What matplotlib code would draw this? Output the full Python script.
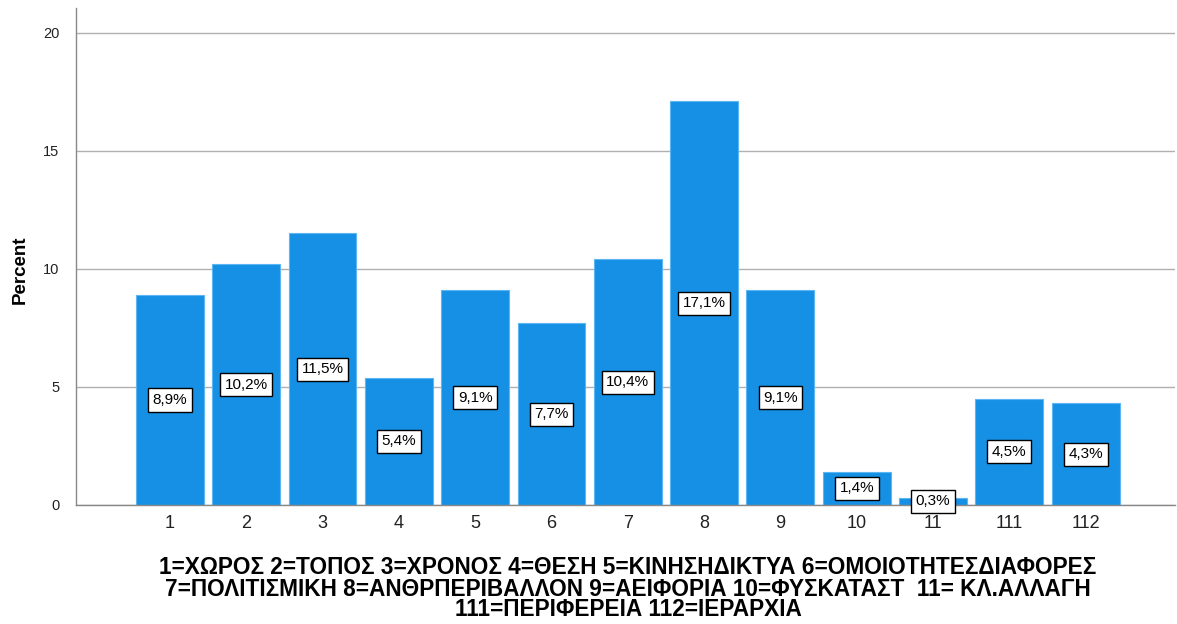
import matplotlib
matplotlib.use("Agg")
import matplotlib.pyplot as plt
import numpy as np

categories = ["1", "2", "3", "4", "5", "6", "7", "8", "9", "10", "11", "111", "112"]
percent = [8.9, 10.2, 11.5, 5.4, 9.1, 7.7, 10.4, 17.1, 9.1, 1.4, 0.3, 4.5, 4.3]
bar_labels = ["8,9%", "10,2%", "11,5%", "5,4%", "9,1%", "7,7%", "10,4%", "17,1%", "9,1%",
              "1,4%", "0,3%", "4,5%", "4,3%"]
yticks = [0, 5, 10, 15, 20]
xlabel_lines = [
    "1=ΧΩΡΟΣ 2=ΤΟΠΟΣ 3=ΧΡΟΝΟΣ 4=ΘΕΣΗ 5=ΚΙΝΗΣΗΔΙΚΤΥΑ 6=ΟΜΟΙΟΤΗΤΕΣΔΙΑΦΟΡΕΣ",
    "7=ΠΟΛΙΤΙΣΜΙΚΗ 8=ΑΝΘΡΠΕΡΙΒΑΛΛΟΝ 9=ΑΕΙΦΟΡΙΑ 10=ΦΥΣΚΑΤΑΣΤ  11= ΚΛ.ΑΛΛΑΓΗ",
    "111=ΠΕΡΙΦΕΡΕΙΑ 112=ΙΕΡΑΡΧΙΑ",
]

plt.rcParams['font.family'] = ['Liberation Sans', 'DejaVu Sans']

fig = plt.figure(figsize=(11.77, 6.24), dpi=100)
ax = fig.add_axes([76 / 1177, 1 - 505 / 624, (1175 - 76) / 1177, (505 - 8) / 624])

x = np.arange(len(categories))
ax.bar(x, percent, width=0.89, color='#1590e5', edgecolor='#5cb6f2', linewidth=0.8, zorder=2)

for xi, v, lab in zip(x, percent, bar_labels):
    ax.text(xi, v / 2, lab, ha='center', va='center', fontsize=11, zorder=4,
            bbox=dict(boxstyle='square,pad=0.3', facecolor='white', edgecolor='black', linewidth=1.0))

ax.set_xlim(-1.23, 13.17)
ax.set_ylim(0, 21.05)
ax.set_yticks(yticks)
ax.set_yticklabels([str(t) for t in yticks], fontsize=10.5)
ax.set_xticks(x)
ax.set_xticklabels(categories, fontsize=13)
ax.tick_params(axis='both', length=0, colors='#222222')
ax.tick_params(axis='y', pad=12)
ax.tick_params(axis='x', pad=7)
ax.grid(axis='y', color='#b0b0b0', linewidth=1.0, zorder=0)
ax.set_axisbelow(True)
for s in ['top', 'right']:
    ax.spines[s].set_visible(False)
for s in ['left', 'bottom']:
    ax.spines[s].set_color('#888888')
    ax.spines[s].set_linewidth(1.0)

fig.text(20 / 1177, 1 - 270 / 624, "Percent", rotation=90, ha='center', va='center',
         fontsize=13.5, fontweight='bold')

line_y = [567, 589, 610]
for ly, txt in zip(line_y, xlabel_lines):
    fig.text(628 / 1177, 1 - ly / 624, txt, ha='center', va='center', fontsize=16.3,
             fontweight='bold')

fig.savefig("out.png", dpi=100, facecolor='white')
